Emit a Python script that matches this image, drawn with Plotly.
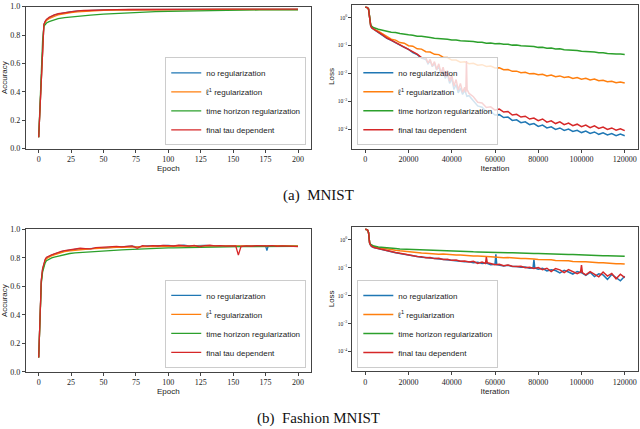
import plotly.graph_objects as go

# ---------------- DATA ----------------
series_names = ["no regularization", "ℓ<sup>1</sup> regularization",
                "time horizon regularization", "final tau dependent"]

# MNIST accuracy
mn_epochs = [0, 1, 2, 3, 4, 5, 6, 8, 10, 12, 15, 20, 25, 30, 35, 40, 50, 60, 70, 80,
             90, 100, 110, 120, 130, 140, 150, 160, 170, 180, 190, 200]
mn_acc_blue = [0.08, 0.30, 0.56, 0.78, 0.874, 0.895, 0.908, 0.922, 0.932, 0.940, 0.948, 0.957,
               0.964, 0.969, 0.972, 0.974, 0.977, 0.978, 0.979, 0.980, 0.980, 0.980, 0.981,
               0.981, 0.981, 0.981, 0.981, 0.981, 0.981, 0.981, 0.981, 0.981]
mn_acc_orange = [0.08, 0.30, 0.55, 0.77, 0.870, 0.890, 0.902, 0.915, 0.925, 0.932, 0.942, 0.951,
                 0.958, 0.963, 0.967, 0.970, 0.974, 0.976, 0.977, 0.978, 0.979, 0.979, 0.980,
                 0.980, 0.980, 0.980, 0.980, 0.980, 0.980, 0.980, 0.980, 0.980]
mn_acc_green = [0.08, 0.30, 0.55, 0.76, 0.862, 0.877, 0.885, 0.895, 0.902, 0.908, 0.915, 0.922,
                0.928, 0.934, 0.938, 0.941, 0.947, 0.952, 0.958, 0.962, 0.965, 0.967, 0.969,
                0.971, 0.973, 0.974, 0.975, 0.976, 0.977, 0.977, 0.978, 0.978]
mn_acc_red = [0.08, 0.30, 0.56, 0.78, 0.875, 0.897, 0.910, 0.925, 0.935, 0.942, 0.950, 0.958,
              0.965, 0.970, 0.973, 0.975, 0.978, 0.979, 0.980, 0.981, 0.981, 0.981, 0.981,
              0.981, 0.982, 0.982, 0.982, 0.982, 0.982, 0.982, 0.982, 0.982]

# MNIST loss
iters_grid = [0, 500, 1000, 1500, 2000, 2500, 3000, 4000,
              6000, 8000, 10000, 12000, 14000, 16000, 18000, 20000, 22000, 24000, 26000,
              28000, 30000, 32000, 34000, 36000, 38000, 40000, 42000, 44000, 46000, 48000,
              50000, 52000, 54000, 56000, 58000, 60000, 62000, 64000, 66000, 68000, 70000,
              72000, 74000, 76000, 78000, 80000, 82000, 84000, 86000, 88000, 90000, 92000,
              94000, 96000, 98000, 100000, 102000, 104000, 106000, 108000, 110000, 112000,
              114000, 116000, 118000, 120000]
mn_loss_orange = [2.34, 2.33, 2.28, 2.03, 0.89, 0.52, 0.45, 0.38,
                  0.325, 0.262, 0.21, 0.168, 0.156, 0.127, 0.121, 0.098, 0.094, 0.076, 0.074,
                  0.060, 0.058, 0.048, 0.047, 0.038, 0.037, 0.030, 0.0300, 0.0252, 0.0258, 0.0220,
                  0.0230, 0.0196, 0.0205, 0.0178, 0.0182, 0.0155, 0.0158, 0.0135, 0.0138, 0.0118,
                  0.0120, 0.0105, 0.0110, 0.0096, 0.0099, 0.0089, 0.0093, 0.0081, 0.0087, 0.0076,
                  0.0081, 0.0071, 0.0075, 0.0066, 0.0071, 0.0062, 0.0066, 0.0058, 0.0062, 0.0054,
                  0.0056, 0.0050, 0.0052, 0.0046, 0.0049, 0.0045]
mn_loss_green = [2.34, 2.33, 2.28, 2.05, 0.95, 0.56, 0.48, 0.43,
                 0.385, 0.345, 0.322, 0.296, 0.293, 0.268, 0.262, 0.243, 0.234, 0.216, 0.213,
                 0.197, 0.193, 0.183, 0.181, 0.171, 0.168, 0.156, 0.157, 0.148, 0.147, 0.139,
                 0.140, 0.130, 0.131, 0.121, 0.122, 0.115, 0.117, 0.110, 0.111, 0.103,
                 0.104, 0.098, 0.0975, 0.0915, 0.0925, 0.0855, 0.0865, 0.0795, 0.0805, 0.0745,
                 0.0755, 0.0705, 0.0700, 0.0670, 0.0665, 0.0620, 0.0610, 0.0585, 0.0580, 0.0545,
                 0.0550, 0.0515, 0.0520, 0.0495, 0.0492, 0.0478]
mn_iters_blue = [0, 500, 1000, 1500, 2000, 2500, 3000, 4000,
                 6000, 8000, 10000, 12000, 14000, 16000, 18000, 20000, 22000, 24000, 26000,
                 28000, 29000, 30000, 31000, 32000, 33000, 34000, 35000, 36000, 37000, 38000,
                 39000, 40000, 41000, 42000, 43000, 44000, 45000, 46000, 47000, 48000,
                 50000, 52000, 54000, 56000, 58000, 60000, 62000, 64000, 66000, 68000, 70000,
                 72000, 74000, 76000, 78000, 80000, 82000, 84000, 86000, 88000, 90000, 92000,
                 94000, 96000, 98000, 100000, 102000, 104000, 106000, 108000, 110000, 112000,
                 114000, 116000, 118000, 120000]
mn_loss_blue = [2.34, 2.33, 2.28, 2.0, 0.83, 0.50, 0.42, 0.37,
                0.295, 0.235, 0.18, 0.152, 0.124, 0.106, 0.086, 0.073, 0.056, 0.047, 0.035,
                0.0316, 0.0219, 0.0282, 0.0174, 0.0229, 0.0132, 0.0182, 0.0095, 0.0138, 0.0066,
                0.0095, 0.00437, 0.0066, 0.00263, 0.0040, 0.0020, 0.0030, 0.00174, 0.00251,
                0.00151, 0.00158,
                0.00108, 0.00068, 0.00061, 0.00043, 0.00043, 0.00032, 0.00033, 0.00026, 0.00027,
                0.000205, 0.000215, 0.000170, 0.000183, 0.000145, 0.000157, 0.000124, 0.000139,
                0.000110, 0.000121, 0.000098, 0.000110, 0.000090, 0.000100, 0.000082, 0.000091,
                0.000075, 0.000085, 0.000070, 0.000079, 0.000065, 0.000074, 0.000062, 0.000069,
                0.000058, 0.000066, 0.000058]
mn_iters_red = [0, 500, 1000, 1500, 2000, 2500, 3000, 4000,
                6000, 8000, 10000, 12000, 14000, 16000, 18000, 20000, 22000, 24000, 26000,
                28000, 29000, 30000, 31000, 32000, 33000, 34000, 35000, 36000, 37000, 38000,
                39000, 40000, 41000, 42000, 43000, 44000, 45000, 46000, 46500, 46800, 47100,
                48000,
                50000, 52000, 54000, 56000, 58000, 60000, 62000, 64000, 66000, 68000, 70000,
                72000, 74000, 76000, 78000, 80000, 82000, 84000, 86000, 88000, 90000, 92000,
                94000, 96000, 98000, 100000, 102000, 104000, 106000, 108000, 110000, 112000,
                114000, 116000, 118000, 120000]
mn_loss_red = [2.34, 2.33, 2.28, 2.02, 0.84, 0.51, 0.43, 0.375,
               0.30, 0.24, 0.185, 0.155, 0.128, 0.108, 0.089, 0.075, 0.059, 0.049, 0.037,
               0.0363, 0.0234, 0.0316, 0.0182, 0.0263, 0.0138, 0.0219, 0.0102, 0.0166, 0.0076,
               0.0126, 0.00525, 0.0087, 0.00347, 0.0060, 0.00251, 0.00437, 0.00209, 0.00316,
               0.00209, 0.0275, 0.00263, 0.0019,
               0.00145, 0.00092, 0.00086, 0.00060, 0.00063, 0.00048, 0.00052, 0.00041, 0.00043,
               0.00032, 0.00034, 0.00027, 0.00029, 0.00023, 0.00025, 0.00020, 0.00023,
               0.000178, 0.000198, 0.000158, 0.000181, 0.000144, 0.000165, 0.000132, 0.000150,
               0.000123, 0.000140, 0.000112, 0.000130, 0.000105, 0.000119, 0.000098, 0.000110,
               0.000092, 0.000103, 0.000088]

# Fashion MNIST accuracy
fa_epochs = [0, 1, 2, 3, 4, 5, 6, 8, 10, 12, 14, 16, 18, 20,
             24, 28, 32, 36, 40, 44, 48, 52, 56, 60, 64, 68, 72, 76, 80, 84, 88, 92, 96, 100,
             104, 108, 112, 116, 120, 124, 128, 132, 136, 140, 144, 148, 152, 156, 160, 164,
             168, 172, 176, 180, 184, 188, 192, 196, 200]
fa_epochs_blue = [0, 1, 2, 3, 4, 5, 6, 8, 10, 12, 14, 16, 18, 20,
                  24, 28, 32, 36, 40, 44, 48, 52, 56, 60, 64, 68, 72, 76, 80, 84, 88, 92, 96, 100,
                  104, 108, 112, 116, 120, 124, 128, 132, 136, 140, 144, 148, 152, 156, 160, 164,
                  168, 172, 175, 176, 177, 180, 184, 188, 192, 196, 200]
fa_epochs_red = [0, 1, 2, 3, 4, 5, 6, 8, 10, 12, 14, 16, 18, 20,
                 24, 28, 32, 36, 40, 44, 48, 52, 56, 60, 64, 68, 72, 76, 80, 84, 88, 92, 96, 100,
                 104, 108, 112, 116, 120, 124, 128, 132, 136, 140, 144, 148, 152, 154, 156, 160,
                 164, 168, 172, 176, 180, 184, 188, 192, 196, 200]
fa_acc_blue = [0.10, 0.37, 0.64, 0.72, 0.76, 0.785, 0.80, 0.812, 0.82, 0.826, 0.834, 0.84, 0.845, 0.85,
               0.856, 0.861, 0.865, 0.864, 0.866, 0.871, 0.874, 0.876, 0.877, 0.879,
               0.878, 0.881, 0.882, 0.878, 0.884, 0.885, 0.884, 0.887, 0.886, 0.888,
               0.885, 0.887, 0.889, 0.884, 0.886, 0.884, 0.888, 0.886, 0.887, 0.884,
               0.888, 0.886, 0.885, 0.887, 0.884, 0.886, 0.885, 0.887, 0.885, 0.851, 0.884, 0.886,
               0.884, 0.887, 0.885, 0.884, 0.882]
fa_acc_orange = [0.10, 0.36, 0.63, 0.715, 0.755, 0.78, 0.795, 0.807, 0.815, 0.821, 0.828, 0.834, 0.839, 0.844,
                 0.850, 0.855, 0.859, 0.861, 0.863, 0.866, 0.869, 0.871, 0.872, 0.874,
                 0.875, 0.877, 0.876, 0.878, 0.879, 0.880, 0.879, 0.881, 0.882, 0.881,
                 0.882, 0.883, 0.882, 0.884, 0.883, 0.884, 0.883, 0.885, 0.884, 0.883,
                 0.885, 0.884, 0.885, 0.884, 0.885, 0.884, 0.886, 0.885, 0.884, 0.886,
                 0.885, 0.884, 0.886, 0.885, 0.884]
fa_acc_green = [0.10, 0.35, 0.62, 0.70, 0.745, 0.765, 0.78, 0.792, 0.80, 0.806, 0.811, 0.816, 0.821, 0.825,
                0.831, 0.835, 0.838, 0.841, 0.844, 0.846, 0.849, 0.851, 0.853, 0.855,
                0.857, 0.859, 0.861, 0.862, 0.864, 0.865, 0.867, 0.868, 0.869, 0.870,
                0.871, 0.872, 0.873, 0.874, 0.875, 0.876, 0.877, 0.877, 0.878, 0.878,
                0.879, 0.879, 0.879, 0.880, 0.880, 0.880, 0.880, 0.881, 0.881, 0.881,
                0.881, 0.881, 0.881, 0.881, 0.881]
fa_acc_red = [0.10, 0.38, 0.645, 0.725, 0.765, 0.79, 0.805, 0.815, 0.822, 0.828, 0.836, 0.842, 0.847, 0.852,
              0.858, 0.862, 0.868, 0.866, 0.864, 0.873, 0.876, 0.874, 0.879, 0.881,
              0.877, 0.882, 0.884, 0.868, 0.886, 0.883, 0.887, 0.884, 0.888, 0.886,
              0.884, 0.889, 0.886, 0.883, 0.888, 0.878, 0.886, 0.889, 0.885, 0.887,
              0.883, 0.886, 0.884, 0.820, 0.880, 0.885, 0.882, 0.886, 0.883, 0.884, 0.886,
              0.882, 0.885, 0.883, 0.884, 0.879]

# Fashion MNIST loss
fa_loss_orange = [2.34, 2.33, 2.24, 1.78, 0.776, 0.646, 0.603, 0.562,
                  0.525, 0.49, 0.457, 0.437, 0.417, 0.398, 0.380, 0.372, 0.355, 0.347, 0.331,
                  0.328, 0.316, 0.316, 0.304, 0.305, 0.292, 0.293, 0.281, 0.282, 0.271, 0.272,
                  0.260, 0.262, 0.250, 0.251, 0.246, 0.236, 0.237, 0.227, 0.228, 0.219, 0.220,
                  0.210, 0.212, 0.202, 0.204, 0.195, 0.197, 0.188, 0.190, 0.181, 0.183, 0.174,
                  0.176, 0.167, 0.169, 0.161, 0.162, 0.155, 0.156, 0.149, 0.150, 0.144, 0.145,
                  0.139, 0.139, 0.135]
fa_loss_green = [2.34, 2.33, 2.24, 1.78, 0.79, 0.676, 0.63, 0.589,
                 0.55, 0.525, 0.502, 0.488, 0.481, 0.466, 0.459, 0.445, 0.439, 0.425, 0.419,
                 0.414, 0.407, 0.406, 0.399, 0.398, 0.391, 0.390, 0.383, 0.382, 0.375, 0.374,
                 0.367, 0.366, 0.359, 0.358, 0.352, 0.351, 0.345, 0.345, 0.338, 0.338, 0.331,
                 0.331, 0.325, 0.325, 0.318, 0.318, 0.312, 0.311, 0.305, 0.304, 0.299, 0.298,
                 0.292, 0.292, 0.286, 0.286, 0.280, 0.280, 0.274, 0.274, 0.268, 0.268, 0.263,
                 0.262, 0.258, 0.257]
fa_iters_blue = [0, 500, 1000, 1500, 2000, 2500, 3000, 4000,
                 6000, 8000, 10000, 12000, 14000, 16000, 18000, 20000, 22000, 24000, 26000,
                 28000, 30000, 32000, 34000, 36000, 38000, 40000, 42000, 44000, 46000, 48000,
                 50000, 52000, 54000, 56000, 58000, 60000, 60400, 60800,
                 62000, 64000, 66000, 68000, 70000, 72000, 74000, 76000, 77600, 78000, 78400,
                 80000, 82000, 84000, 86000, 88000, 90000, 92000, 94000, 96000, 98000, 100000,
                 102000, 104000, 106000, 108000, 110000, 112000, 114000, 116000, 118000, 120000]
fa_loss_blue = [2.34, 2.33, 2.25, 1.80, 0.75, 0.62, 0.568, 0.52,
                0.474, 0.432, 0.392, 0.367, 0.342, 0.319, 0.297, 0.278, 0.262, 0.247, 0.236,
                0.229, 0.220, 0.214, 0.205, 0.199, 0.190, 0.186, 0.176, 0.173, 0.164, 0.163,
                0.150, 0.157, 0.140, 0.147, 0.128, 0.131, 0.300, 0.128,
                0.125, 0.115, 0.121, 0.109, 0.110, 0.103, 0.106, 0.095, 0.099, 0.195, 0.098,
                0.088, 0.095, 0.076, 0.084, 0.079, 0.065, 0.080, 0.070, 0.059, 0.073, 0.066,
                0.053, 0.068, 0.048, 0.060, 0.055, 0.038, 0.057, 0.044, 0.034, 0.049]
fa_iters_red = [0, 500, 1000, 1500, 2000, 2500, 3000, 4000,
                6000, 8000, 10000, 12000, 14000, 16000, 18000, 20000, 22000, 24000, 26000,
                28000, 30000, 32000, 34000, 36000, 38000, 40000, 42000, 44000, 46000, 48000,
                50000, 52000, 54000, 55600, 56000, 56400,
                58000, 60000, 62000, 64000, 66000, 68000, 70000, 72000, 74000, 76000, 78000,
                80000, 82000, 84000, 86000, 88000, 90000, 92000, 94000, 96000, 98000,
                99600, 100000, 100400,
                102000, 104000, 106000, 108000, 110000, 112000, 114000, 116000, 118000, 120000]
fa_loss_red = [2.34, 2.33, 2.25, 1.82, 0.76, 0.63, 0.575, 0.525,
               0.479, 0.437, 0.398, 0.372, 0.347, 0.324, 0.302, 0.282, 0.266, 0.251, 0.247,
               0.225, 0.231, 0.210, 0.215, 0.195, 0.201, 0.182, 0.187, 0.170, 0.174, 0.159,
               0.168, 0.142, 0.158, 0.140, 0.240, 0.150,
               0.141, 0.128, 0.133, 0.118, 0.124, 0.113, 0.110, 0.111, 0.099, 0.104, 0.094,
               0.101, 0.084, 0.095, 0.072, 0.093, 0.083, 0.066, 0.085, 0.074, 0.061,
               0.070, 0.123, 0.066,
               0.055, 0.072, 0.058, 0.047, 0.070, 0.050, 0.062, 0.040, 0.058, 0.044]

acc_ticks = [0.0, 0.2, 0.4, 0.6, 0.8, 1.0]
epoch_ticks = [0, 25, 50, 75, 100, 125, 150, 175, 200]
iter_ticks = [0, 20000, 40000, 60000, 80000, 100000, 120000]
loss_tickvals = [1, 0.1, 0.01, 0.001, 0.0001]
loss_ticktext = ["10<sup>0</sup>", "10<sup>−1</sup>", "10<sup>−2</sup>",
                 "10<sup>−3</sup>", "10<sup>−4</sup>"]
captions = ["(a)\u00a0\u00a0MNIST", "(b)\u00a0\u00a0Fashion MNIST"]

# ---------------- STYLE ----------------
colors = ["#1f77b4", "#ff7f0e", "#2ca02c", "#d62728"]
SERIF = "Liberation Serif"
SANS = "Liberation Sans"

fig = go.Figure()

panels = [
    ("x", "y", "legend", [(mn_epochs, mn_acc_blue), (mn_epochs, mn_acc_orange),
                          (mn_epochs, mn_acc_green), (mn_epochs, mn_acc_red)], 1.3),
    ("x2", "y2", "legend2", [(mn_iters_blue, mn_loss_blue), (iters_grid, mn_loss_orange),
                             (iters_grid, mn_loss_green), (mn_iters_red, mn_loss_red)], 1.5),
    ("x3", "y3", "legend3", [(fa_epochs_blue, fa_acc_blue), (fa_epochs, fa_acc_orange),
                             (fa_epochs, fa_acc_green), (fa_epochs_red, fa_acc_red)], 1.3),
    ("x4", "y4", "legend4", [(fa_iters_blue, fa_loss_blue), (iters_grid, fa_loss_orange),
                             (iters_grid, fa_loss_green), (fa_iters_red, fa_loss_red)], 1.5),
]
for xa, ya, leg, data, w in panels:
    for i, (xs, ys) in enumerate(data):
        assert len(xs) == len(ys), (xa, i, len(xs), len(ys))
        fig.add_trace(go.Scatter(x=xs, y=ys, mode="lines", name=series_names[i],
                                 line=dict(color=colors[i], width=w),
                                 xaxis=xa, yaxis=ya, legend=leg, showlegend=True))

common = dict(showline=True, linecolor="#444444", linewidth=1, mirror=True,
              ticks="outside", ticklen=3, tickcolor="#444444", tickwidth=1,
              showgrid=False, zeroline=False,
              tickfont=dict(family=SERIF, size=8, color="#222222"))
title_font = dict(family=SANS, size=8, color="#222222")

def xacc(dom, anchor):
    return dict(common, domain=dom, anchor=anchor, range=[-10, 210],
                tickvals=epoch_ticks,
                title=dict(text="Epoch", font=title_font, standoff=0))

def yacc(dom, anchor):
    return dict(common, domain=dom, anchor=anchor, range=[0, 1], tickvals=acc_ticks,
                tickformat=".1f",
                title=dict(text="Accuracy", font=title_font, standoff=3))

def xloss(dom, anchor):
    return dict(common, domain=dom, anchor=anchor, range=[-6000, 126000],
                tickvals=iter_ticks, tickformat="d",
                title=dict(text="Iteration", font=title_font, standoff=0))

def yloss(dom, anchor):
    c = dict(common)
    c["tickfont"] = dict(family=SERIF, size=5.5, color="#222222")
    return dict(c, domain=dom, anchor=anchor, type="log", range=[-4.70, 0.47],
                tickvals=loss_tickvals, ticktext=loss_ticktext,
                title=dict(text="Loss", font=title_font, standoff=1))

leg_style = dict(yanchor="bottom", bgcolor="rgba(255,255,255,0.8)",
                 bordercolor="#cccccc", borderwidth=1, itemwidth=30, tracegroupgap=0,
                 font=dict(family=SANS, size=8, color="#222222"))

fig.update_layout(
    width=640, height=429,
    margin=dict(l=0, r=0, t=0, b=0),
    paper_bgcolor="white", plot_bgcolor="white",
    xaxis=xacc([0.0402, 0.4859], "y"),
    yaxis=yacc([0.6557, 0.9937], "x"),
    xaxis2=xloss([0.5505, 0.9964], "y2"),
    yaxis2=yloss([0.6557, 0.9988], "x2"),
    xaxis3=xacc([0.0402, 0.4859], "y3"),
    yaxis3=yacc([0.1242, 0.4632], "x3"),
    xaxis4=xloss([0.5505, 0.9964], "y4"),
    yaxis4=yloss([0.1259, 0.4702], "x4"),
    legend=dict(leg_style, x=0.4785, xanchor="right", y=0.6636),
    legend2=dict(leg_style, x=0.5583, xanchor="left", y=0.6636),
    legend3=dict(leg_style, x=0.4785, xanchor="right", y=0.1336),
    legend4=dict(leg_style, x=0.5583, xanchor="left", y=0.1336),
    annotations=[
        dict(text=captions[0], xref="paper", yref="paper", x=0.497, y=0.543,
             xanchor="center", yanchor="middle", showarrow=False,
             font=dict(family=SERIF, size=15, color="#111111")),
        dict(text=captions[1], xref="paper", yref="paper", x=0.498, y=0.013,
             xanchor="center", yanchor="middle", showarrow=False,
             font=dict(family=SERIF, size=15, color="#111111")),
    ],
)

fig.write_html("out.html", config={"displayModeBar": False},
               post_script="document.body.style.margin='0px';")
